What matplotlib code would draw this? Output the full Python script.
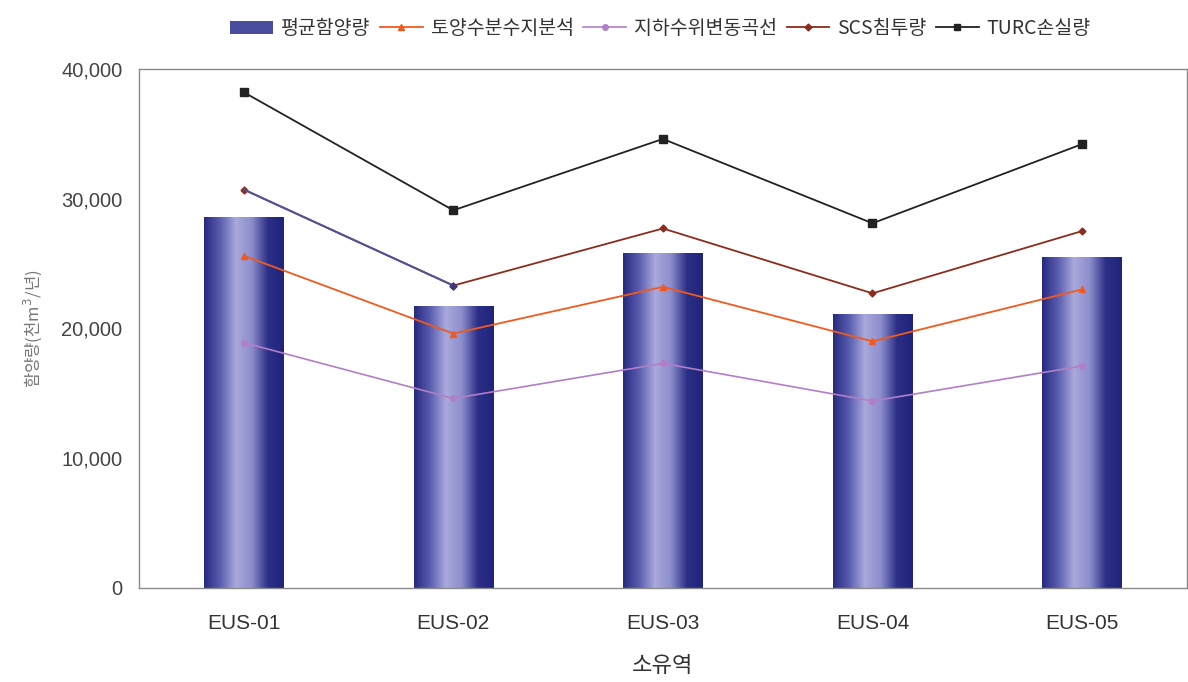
import numpy as np
import matplotlib.pyplot as plt
from matplotlib.colors import LinearSegmentedColormap
from matplotlib.patches import Patch
from matplotlib.lines import Line2D

plt.rcParams['font.family'] = ['Noto Sans CJK KR', 'DejaVu Sans']

# data (천m3/년)
basins = ['EUS-01', 'EUS-02', 'EUS-03', 'EUS-04', 'EUS-05']
avg_recharge = [28600, 21700, 25800, 21100, 25500]
soil_water = [25600, 19600, 23200, 19000, 23000]
gw_fluct = [18900, 14600, 17300, 14400, 17100]
scs_infil = [30700, 23300, 27700, 22700, 27500]
turc_loss = [38200, 29100, 34600, 28100, 34200]

fig = plt.figure(figsize=(11.88, 6.82), dpi=100)
ax = fig.add_axes([0.117, 0.138, 0.882, 0.761])

x = np.arange(len(basins))

# cylinder-ish bars: dark edges, light stripe in the middle
cyl = LinearSegmentedColormap.from_list(
    'cyl', ['#262a7e', '#5a5cae', '#a9a9dc', '#8c8dcc', '#2c2f86', '#1f237a'])
grad = np.linspace(0, 1, 256).reshape(1, -1)
bars = ax.bar(x, avg_recharge, width=0.38, color='none', edgecolor='none', zorder=1)
for b in bars:
    im = ax.imshow(grad, cmap=cyl, aspect='auto', zorder=1,
                   extent=[b.get_x(), b.get_x() + b.get_width(), 0, b.get_height()])
    im.set_clip_path(b)

ax.plot(x, soil_water, color='#f05a1e', marker='^', ms=5, lw=1.3, zorder=3)
ax.plot(x, gw_fluct, color='#b27ec8', marker='o', ms=4, lw=1.2, zorder=3)
ax.plot(x, scs_infil, color='#8b2c1c', marker='D', ms=3.5, lw=1.3, zorder=3)
# first SCS segment is drawn in blue in the original
ax.plot(x[:2], scs_infil[:2], color='#50529a', lw=1.4, zorder=3)
ax.plot(x[1], scs_infil[1], color='#3a3c7c', marker='D', ms=3.5, zorder=4)
ax.plot(x, turc_loss, color='#222222', marker='s', ms=6, lw=1.3, zorder=3)

ax.set_xlim(-0.5, 4.5)
ax.set_ylim(0, 40000)
ax.set_xticks(x)
ax.set_xticklabels(basins, fontsize=15, color='#333333', family='Liberation Sans')
ax.set_yticks([0, 10000, 20000, 30000, 40000])
ax.set_yticklabels(['0', '10,000', '20,000', '30,000', '40,000'], fontsize=14.5,
                   color='#444444', family='Liberation Sans')
ax.tick_params(length=0, pad=12)
ax.tick_params(axis='x', pad=19)
for s in ax.spines.values():
    s.set_color('#8a8a8a')
    s.set_linewidth(1.0)

ax.set_xlabel('소유역', fontsize=16, color='#333333', labelpad=15)
ax.set_ylabel('함양량(천m$^3$/년)', fontsize=12, color='#777777', labelpad=12)

handles = [
    Patch(facecolor='#4a4c9e', edgecolor='none'),
    Line2D([], [], color='#f05a1e', marker='^', ms=5, lw=1.3),
    Line2D([], [], color='#b27ec8', marker='o', ms=4, lw=1.2),
    Line2D([], [], color='#8b2c1c', marker='D', ms=3.5, lw=1.3),
    Line2D([], [], color='#222222', marker='s', ms=5, lw=1.3),
]
labels = ['평균함양량', '토양수분수지분석', '지하수위변동곡선', 'SCS침투량', 'TURC손실량']
fig.legend(handles, labels, loc='center', bbox_to_anchor=(0.556, 0.958), ncol=5,
           frameon=False, fontsize=14, handlelength=2.2, handletextpad=0.4,
           columnspacing=0.5, labelcolor='#333333')

fig.savefig('out.png', dpi=100)
